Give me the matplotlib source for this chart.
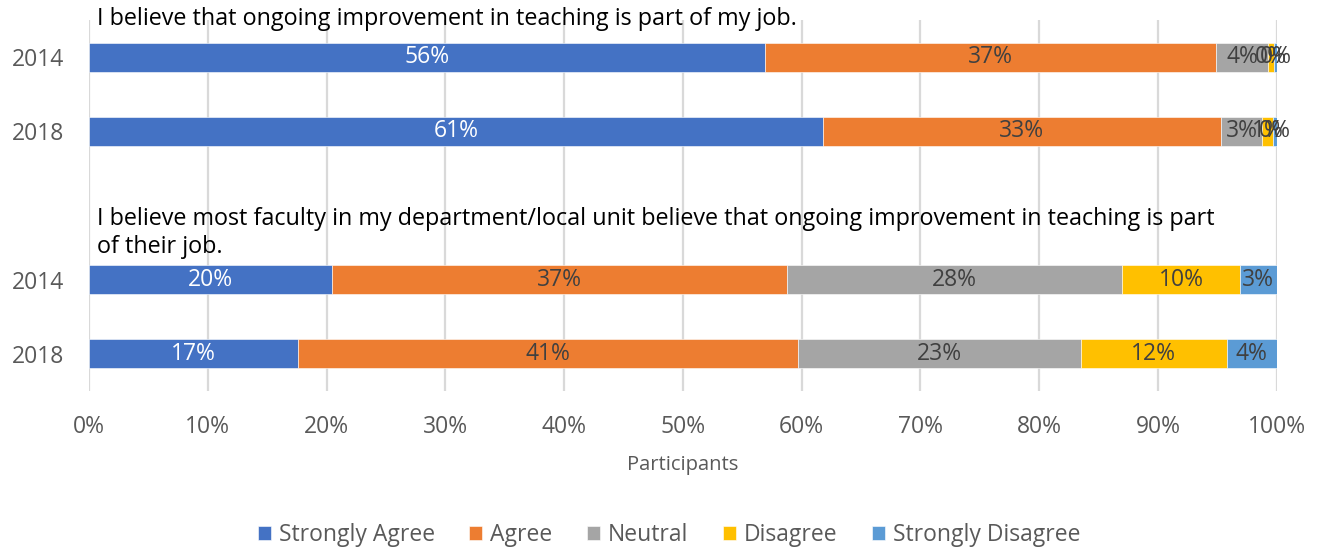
import matplotlib
matplotlib.use("Agg")
import matplotlib.pyplot as plt
import numpy as np

plt.rcParams['font.family'] = ['Open Sans', 'DejaVu Sans']

# rows from top to bottom
years = ['2014', '2018', '2014', '2018']
row_pos = [0, 1, 3, 4]
questions = ['I believe that ongoing improvement in teaching is part of my job.',
             'I believe most faculty in my department/local unit believe that ongoing improvement in teaching is part\nof their job.']
categories = ['Strongly Agree', 'Agree', 'Neutral', 'Disagree', 'Strongly Disagree']
colors = ['#4472C4', '#ED7D31', '#A5A5A5', '#FFC000', '#5B9BD5']

# shares in % per category, one value per row
strongly_agree = [56.9, 61.8, 20.5, 17.6]
agree = [38.0, 33.5, 38.3, 42.1]
neutral = [4.4, 3.5, 28.2, 23.8]
disagree = [0.5, 0.9, 9.9, 12.3]
strongly_disagree = [0.2, 0.3, 3.1, 4.2]

# data labels as printed on the chart
labels_sa = ['56%', '61%', '20%', '17%']
labels_a = ['37%', '33%', '37%', '41%']
labels_n = ['4%', '3%', '28%', '23%']
labels_d = ['0%', '1%', '10%', '12%']
labels_sd = ['0%', '0%', '3%', '4%']

series = [strongly_agree, agree, neutral, disagree, strongly_disagree]
series_labels = [labels_sa, labels_a, labels_n, labels_d, labels_sd]

fs = 16.5

fig = plt.figure(figsize=(13.2, 5.48), dpi=100)
ax = fig.add_axes([89 / 1320, 1 - 391 / 548, (1276.7 - 89) / 1320, 371 / 548])

left = np.zeros(len(years))
for vals, labs, col, name in zip(series, series_labels, colors, categories):
    vals = np.array(vals)
    ax.barh(row_pos, vals, left=left, height=0.39, color=col, label=name,
            edgecolor='white', linewidth=0.4, zorder=3)
    txt_col = 'white' if col == '#4472C4' else '#404040'
    for y, v, l, lab in zip(row_pos, vals, left, labs):
        ax.text(l + v / 2, y, lab, ha='center', va='center', fontsize=fs,
                color=txt_col, zorder=4)
    left += vals

ax.set_xlim(0, 100)
ax.set_ylim(4.5, -0.5)
ax.set_xticks(np.arange(0, 101, 10))
ax.set_xticklabels([f'{v}%' for v in range(0, 101, 10)])
ax.set_yticks(row_pos)
ax.set_yticklabels(years)
ax.tick_params(length=0, labelsize=fs, colors='#595959')
ax.tick_params(axis='x', pad=17)
ax.tick_params(axis='y', pad=18)
ax.grid(axis='x', color='#D9D9D9', linewidth=1.6, zorder=0)
for s in ax.spines.values():
    s.set_visible(False)

ax.set_xlabel('Participants', fontsize=14.5, color='#595959', labelpad=12)

# question headers
fig.text(97 / 1320, 1 - 19 / 548, questions[0], fontsize=16.8, va='center', color='black')
fig.text(97 / 1320, 1 - 233 / 548, questions[1], fontsize=16.8, va='center', color='black',
         linespacing=1.21)

fig.legend(loc='center', bbox_to_anchor=(669 / 1320, 1 - 535 / 548), ncol=5, frameon=False,
           fontsize=fs, handlelength=0.57, handleheight=0.57, handletextpad=0.35,
           columnspacing=1.5, labelcolor='#595959')

fig.savefig('out.png', dpi=100)
